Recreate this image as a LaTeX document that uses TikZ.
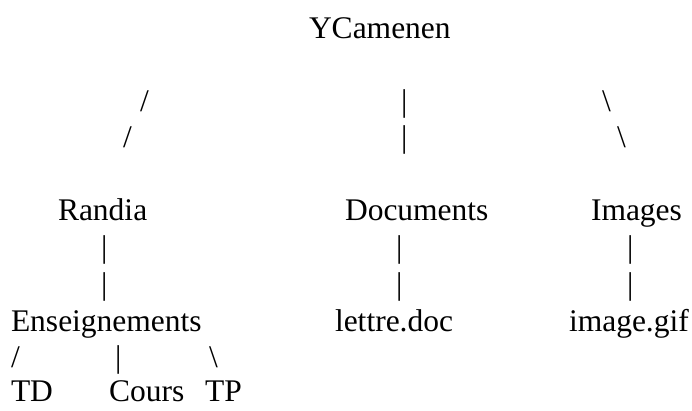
\documentclass[tikz,border=0pt]{standalone}
\usepackage{fontspec}
\setmainfont{Liberation Serif}
\begin{document}
\begin{tikzpicture}[x=1pt,y=-1pt,
  lbl/.style={anchor=base west,inner sep=0pt,outer sep=0pt,font=\fontsize{31.5}{37}\selectfont}]
\useasboundingbox[fill=white] (0,0) rectangle (692,410);
\node[lbl] (root) at (309,38) {YCamenen};
\node[lbl] (s1a) at (140,111) {/};
\node[lbl] (b1a) at (401,111) {|};
\node[lbl] (r1a) at (602,111) {\textbackslash};
\node[lbl] (s1b) at (123,147) {/};
\node[lbl] (b1b) at (401,147) {|};
\node[lbl] (r1b) at (617,147) {\textbackslash};
\node[lbl] (randia) at (58,220) {Randia};
\node[lbl] (docs) at (345,220) {Documents};
\node[lbl] (imgs) at (591,220) {Images};
\node[lbl] (b2a) at (101,257) {|};
\node[lbl] (b2b) at (396,257) {|};
\node[lbl] (b2c) at (627,257) {|};
\node[lbl] (b3a) at (101,294) {|};
\node[lbl] (b3b) at (396,294) {|};
\node[lbl] (b3c) at (627,294) {|};
\node[lbl] (ens) at (11,331) {Enseignements};
\node[lbl] (lettre) at (335,331) {lettre.doc};
\node[lbl] (gif) at (569,331) {image.gif};
\node[lbl] (s4) at (11,367) {/};
\node[lbl] (b4) at (115,367) {|};
\node[lbl] (r4) at (209,367) {\textbackslash};
\node[lbl] (td) at (11,401) {TD};
\node[lbl] (cours) at (109,401) {Cours};
\node[lbl] (tp) at (205,401) {TP};
\end{tikzpicture}
\end{document}
